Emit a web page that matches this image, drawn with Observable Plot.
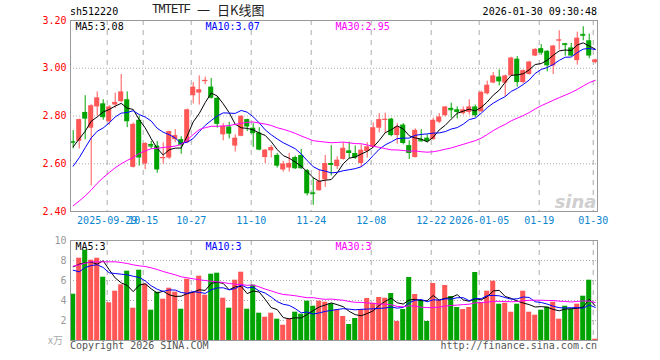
<!DOCTYPE html>
<html><head><meta charset="utf-8">
<script src="https://cdn.jsdelivr.net/npm/d3@7"></script>
<script src="https://cdn.jsdelivr.net/npm/@observablehq/plot@0.6"></script>
<style>
body{margin:0;background:#fff;}
#wrap{position:relative;width:660px;height:360px;overflow:hidden;font-family:"DejaVu Sans Mono",monospace;}
.abs{position:absolute;white-space:nowrap;line-height:1;}
</style></head><body><div id="wrap"></div>
<script>
const dates = ["2025-09-19","2025-09-22","2025-09-23","2025-09-24","2025-09-25","2025-09-26","2025-09-29","2025-09-30",
"2025-10-09","2025-10-10","2025-10-13","2025-10-14","2025-10-15","2025-10-16","2025-10-17","2025-10-20","2025-10-21","2025-10-22","2025-10-23","2025-10-24","2025-10-27","2025-10-28","2025-10-29","2025-10-30","2025-10-31",
"2025-11-03","2025-11-04","2025-11-05","2025-11-06","2025-11-07","2025-11-10","2025-11-11","2025-11-12","2025-11-13","2025-11-14","2025-11-17","2025-11-18","2025-11-19","2025-11-20","2025-11-21","2025-11-24","2025-11-25","2025-11-26","2025-11-27","2025-11-28",
"2025-12-01","2025-12-02","2025-12-03","2025-12-04","2025-12-05","2025-12-08","2025-12-09","2025-12-10","2025-12-11","2025-12-12","2025-12-15","2025-12-16","2025-12-17","2025-12-18","2025-12-19","2025-12-22","2025-12-23","2025-12-24","2025-12-25","2025-12-26","2025-12-29","2025-12-30","2025-12-31",
"2026-01-05","2026-01-06","2026-01-07","2026-01-08","2026-01-09","2026-01-12","2026-01-13","2026-01-14","2026-01-15","2026-01-16","2026-01-19","2026-01-20","2026-01-21","2026-01-22","2026-01-23","2026-01-26","2026-01-27","2026-01-28","2026-01-29","2026-01-30"];

const open = [2.693,2.694,2.815,2.749,2.838,2.851,2.776,2.846,2.860,2.868,
2.585,2.782,2.599,2.681,2.674,2.621,2.624,2.701,2.701,2.688,
2.885,2.896,2.944,2.921,2.874,2.721,2.754,2.674,2.715,2.785,
2.749,2.729,2.626,2.654,2.635,2.574,2.582,2.626,2.635,2.571,
2.478,2.487,2.532,2.601,2.588,2.618,2.654,2.643,2.601,2.651,
2.668,2.749,2.783,2.787,2.718,2.762,2.676,2.626,2.701,2.707,
2.701,2.774,2.801,2.832,2.826,2.810,2.815,2.838,2.818,2.893,
2.938,2.963,2.938,2.968,3.038,2.940,2.974,3.051,3.082,3.071,
3.010,3.115,3.103,3.085,3.032,3.142,3.115,3.024];
const close = [2.690,2.785,2.787,2.843,2.876,2.793,2.838,2.857,2.901,2.776,
2.765,2.624,2.685,2.674,2.574,2.626,2.735,2.718,2.676,2.826,
2.921,2.910,2.949,2.874,2.765,2.757,2.724,2.707,2.799,2.754,
2.726,2.657,2.657,2.668,2.590,2.599,2.601,2.579,2.579,2.474,
2.475,2.526,2.601,2.593,2.615,2.665,2.643,2.624,2.657,2.671,
2.751,2.785,2.786,2.718,2.754,2.685,2.643,2.740,2.696,2.693,
2.782,2.796,2.838,2.826,2.815,2.826,2.838,2.801,2.899,2.929,
2.968,2.943,2.968,3.043,2.940,2.990,3.026,3.079,3.063,3.010,
3.093,3.118,3.099,3.051,3.126,3.138,3.051,3.035];
const high = [2.739,2.787,2.885,2.847,2.901,2.868,2.843,2.896,2.974,2.901,
2.771,2.799,2.688,2.694,2.693,2.688,2.737,2.743,2.713,2.829,
2.940,2.968,2.963,2.957,2.879,2.768,2.774,2.721,2.801,2.787,
2.768,2.751,2.660,2.676,2.643,2.610,2.643,2.632,2.660,2.576,
2.540,2.574,2.635,2.676,2.629,2.688,2.690,2.674,2.679,2.688,
2.771,2.810,2.812,2.790,2.768,2.768,2.696,2.746,2.743,2.721,
2.790,2.810,2.840,2.854,2.838,2.838,2.868,2.846,2.904,2.946,
2.982,2.993,2.971,3.046,3.049,2.993,3.029,3.082,3.099,3.074,
3.096,3.157,3.104,3.104,3.151,3.174,3.143,3.038];
const low = [2.662,2.662,2.700,2.507,2.799,2.782,2.762,2.832,2.857,2.751,
2.582,2.590,2.576,2.660,2.560,2.599,2.618,2.688,2.640,2.685,
2.851,2.846,2.931,2.871,2.749,2.696,2.704,2.649,2.713,2.735,
2.668,2.654,2.601,2.624,2.582,2.565,2.565,2.576,2.576,2.465,
2.426,2.485,2.501,2.549,2.576,2.615,2.621,2.618,2.585,2.624,
2.665,2.729,2.726,2.713,2.682,2.679,2.618,2.624,2.690,2.688,
2.699,2.768,2.796,2.790,2.788,2.804,2.804,2.793,2.815,2.888,
2.935,2.926,2.882,2.965,2.921,2.935,2.971,3.049,3.054,2.985,
2.974,3.076,3.051,3.049,3.013,3.115,3.040,3.018];
const volume = [4.63,8.23,9.03,8.03,8.23,6.33,3.77,4.93,5.57,6.93,
3.23,7.03,5.63,3.03,4.83,4.13,5.23,4.83,3.13,6.13,
4.83,6.43,4.53,6.63,6.73,4.23,3.23,6.03,6.83,3.13,
5.53,2.73,2.33,2.73,2.13,1.53,2.13,2.83,2.63,3.93,
3.43,3.93,3.83,3.67,3.07,2.40,1.60,2.20,3.10,4.20,
3.73,4.30,4.23,4.70,1.90,3.10,6.30,4.60,4.00,1.90,
5.70,4.00,5.50,4.40,3.30,3.10,3.30,6.80,3.80,4.93,
5.93,3.63,3.73,2.83,3.63,4.93,2.83,2.53,3.03,3.33,
3.83,2.13,3.43,3.13,3.63,4.43,6.03,0.13];

// moving-average values for the first days (their windows start before the chart)
const ma5Early = [2.671,2.704,2.736,2.778];
const ma10Early = [2.590,2.625,2.667,2.708,2.736,2.750,2.771,2.796,2.812];
const ma30Early = [2.424,2.444,2.465,2.490,2.518,2.542,2.563,2.583,2.600,2.614,2.626,2.643,2.654,2.663,2.665,2.668,2.671,2.674,2.681,2.700,2.722,2.743,2.751,2.757,2.757,2.758,2.760,2.765,2.769];
const vma5Early = [7.37,7.63,7.77,7.83];
const vma10Early = [7.03,6.87,7.30,7.50,7.57,7.30,6.77,6.70,6.63];
const vma30Early = [7.43,7.57,7.73,7.87,7.87,7.87,7.87,7.87,7.80,7.70,7.57,7.47,7.40,7.27,7.10,6.90,6.73,6.57,6.37,6.27,6.17,6.07,6.00,5.93,5.87,5.80,5.70,5.63,5.60];

const priceTicks = [2.40,2.60,2.80,3.00,3.20];
const priceGrid = [2.60,2.80,3.00];
const volTicks = [2,4,6,8,10];
const volGrid = [2,4,6,8];
const tickDates = ["2025-09-29","2025-10-15","2025-10-27","2025-11-10","2025-11-24","2025-12-08","2025-12-22","2026-01-05","2026-01-19","2026-01-30"];
const tickLabels = ["2025-09-29","10-15","10-27","11-10","11-24","12-08","12-22","2026-01-05","01-19","01-30"];
const priceLegend = ["MA5:3.08","MA10:3.07","MA30:2.95"];
const volLegend = ["MA5:3","MA10:3","MA30:3"];
const maColors = ["#000000","#0000ff","#ff00ff"];

const RED = "#ff5656", GREEN = "#00a300";
const FONT = '"DejaVu Sans Mono", monospace';

function ma(vals, n, early) {
  return vals.map((v, i) => i < n - 1 ? early[i] : d3.mean(vals.slice(i - n + 1, i + 1)));
}
const candles = dates.map((d, i) => ({i, date: d, o: open[i], h: high[i], l: low[i], c: close[i], v: volume[i],
  col: close[i] >= open[i] ? RED : GREEN}));
const tickIdx = tickDates.map(d => dates.indexOf(d));
const labelOf = new Map(tickIdx.map((k, j) => [k, tickLabels[j]]));
const pMA = [ma(close, 5, ma5Early), ma(close, 10, ma10Early), ma(close, 30, ma30Early)];
const vMA = [ma(volume, 5, vma5Early), ma(volume, 10, vma10Early), ma(volume, 30, vma30Early)];
const toLine = arr => arr.map((v, i) => ({i, v}));

const X = {type: "linear", domain: [-0.45, 87.38], axis: null};
const HW = 0.42;
const legendMarks = (labels) => labels.map((t, j) => Plot.text([t], {frameAnchor: "top-left", dx: 5 + 130 * j, dy: 2,
  textAnchor: "start", lineAnchor: "top", fill: maColors[j], fontSize: 10, fontFamily: FONT}));

const main = Plot.plot({
  width: 660, height: 230, marginTop: 20, marginBottom: 19, marginLeft: 70, marginRight: 63,
  x: X, y: {domain: [2.4, 3.2], axis: null}, color: {type: "identity"},
  style: {fontFamily: FONT, fontSize: "10px", background: "transparent", overflow: "visible"},
  marks: [
    Plot.ruleY(priceGrid, {stroke: "#aaa", strokeDasharray: "1,2"}),
    Plot.ruleX(tickIdx, {stroke: "#aaa", strokeDasharray: "5,5", dx: -2}),
    Plot.text(["sina"], {frameAnchor: "bottom-right", dx: -1, dy: -4, textAnchor: "end", lineAnchor: "bottom",
      fontSize: 18, fontStyle: "italic", fontWeight: "bold", fill: "#cfcfcf", fontFamily: "DejaVu Sans"}),
    Plot.ruleX(candles, {x: "i", y1: "l", y2: "h", stroke: "col"}),
    Plot.rect(candles, {x1: d => d.i - HW, x2: d => d.i + HW, y1: "o", y2: "c", fill: "col"}),
    Plot.ruleY(candles.filter(d => Math.abs(d.o - d.c) < 0.008), {y: "c", x1: d => d.i - HW, x2: d => d.i + HW, stroke: "col"}),
    ...pMA.map((a, j) => Plot.line(toLine(a), {x: "i", y: "v", stroke: maColors[j], strokeWidth: 1})),
    Plot.frame({stroke: "#999"}),
    Plot.axisY(priceTicks, {tickSize: 0, tickPadding: 4, tickFormat: d => d.toFixed(2), fill: "#ff0000", fontSize: 10, label: null}),
    Plot.axisX(tickIdx, {tickSize: 0, tickPadding: 5, tickFormat: d => labelOf.get(d), fill: "#0a86d0", dx: -2, fontSize: 10, label: null}),
    ...legendMarks(priceLegend)
  ]
});

const vol = Plot.plot({
  width: 660, height: 130, marginTop: 10, marginBottom: 20, marginLeft: 70, marginRight: 63,
  x: X, y: {domain: [0, 10], axis: null}, color: {type: "identity"},
  style: {fontFamily: FONT, fontSize: "10px", background: "transparent", overflow: "visible"},
  marks: [
    Plot.ruleY(volGrid, {stroke: "#aaa", strokeDasharray: "1,2"}),
    Plot.ruleX(tickIdx, {stroke: "#aaa", strokeDasharray: "5,5", dx: -2}),
    Plot.rect(candles, {x1: d => d.i - HW, x2: d => d.i + HW, y1: 0, y2: "v", fill: "col"}),
    ...vMA.map((a, j) => Plot.line(toLine(a), {x: "i", y: "v", stroke: maColors[j], strokeWidth: 1})),
    Plot.frame({stroke: "#999"}),
    Plot.axisY(volTicks, {tickSize: 0, tickPadding: 4, fill: "#999", fontSize: 10, label: null}),
    ...legendMarks(volLegend)
  ]
});

const wrap = document.getElementById("wrap");
function place(node, left, top) { const d = document.createElement("div"); d.style.position = "absolute"; d.style.left = left + "px"; d.style.top = top + "px"; d.appendChild(node); wrap.appendChild(d); }
place(main, 0, 0);
place(vol, 0, 230);
function label(text, css) { const s = document.createElement("div"); s.className = "abs"; s.textContent = text; Object.assign(s.style, css); wrap.appendChild(s); }
label("sh512220", {left: "70px", top: "7px", fontSize: "10px", color: "#000"});
label("TMTETF", {left: "152px", top: "4px", fontSize: "12.5px", fontFamily: '"Liberation Mono", monospace', letterSpacing: "-1.2px", color: "#222"});
label("一", {left: "197px", top: "3px", fontSize: "13px", fontFamily: '"Noto Sans CJK SC"', color: "#222"});
label("日K线图", {left: "217px", top: "3px", fontSize: "13px", fontFamily: '"Noto Sans CJK SC"', color: "#222"});
label("2026-01-30 09:30:48", {right: "63px", top: "7px", fontSize: "10px", color: "#000"});
label("x万", {left: "48px", top: "335px", fontSize: "10px", fontFamily: '"Noto Sans CJK SC"', color: "#aaa"});
label("Copyright 2026 SINA.COM", {left: "70px", top: "341px", fontSize: "10px", color: "#555"});
label("http://finance.sina.com.cn", {right: "63px", top: "341px", fontSize: "10px", color: "#555"});
</script></body></html>
